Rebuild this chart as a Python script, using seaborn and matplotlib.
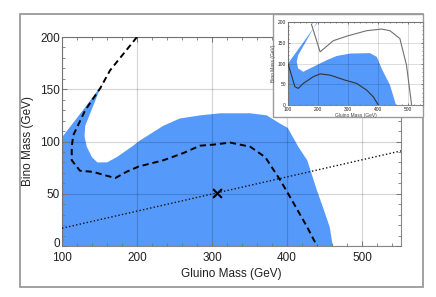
import matplotlib
matplotlib.use("Agg")
import matplotlib.pyplot as plt
import matplotlib.transforms as mtransforms
import seaborn as sns
import pandas as pd
from matplotlib.patches import Rectangle
from matplotlib.ticker import MultipleLocator

# ---- data (GeV) ----
blue_x = [100, 100, 128, 157, 151, 131, 130, 133, 140, 147, 160, 173, 193, 204, 235, 257, 284, 311, 351, 373, 391, 401, 415, 427, 440, 448, 457, 461]
blue_y = [0, 104, 130, 158, 151, 115, 105, 95, 85, 80, 80, 85, 95, 101, 115, 122, 125, 127, 127, 125, 117, 113, 95, 82, 53, 37, 18, 0]

dash_x = [200, 164, 151, 131, 115, 113, 113, 124, 141, 171, 186, 202, 235, 262, 284, 302, 324, 351, 371, 391, 404, 427, 440]
dash_y = [200, 168, 151, 130, 106, 95, 82, 72, 71, 65, 71, 76, 82, 89, 96, 97, 99, 95, 85, 63, 47, 18, 0]

dot_x = [100, 552]
dot_y = [17, 91]

mark_x = [307]
mark_y = [51]

inset_blue_x = [100, 100, 200, 196, 134, 129, 134, 151, 173, 229, 262, 307, 373, 396, 412, 440, 460]
inset_blue_y = [0, 100, 200, 199, 120, 104, 88, 80, 88, 108, 118, 124, 125, 116, 88, 48, 0]

inset_outer_x = [178, 207, 251, 301, 362, 412, 440, 473, 495, 512]
inset_outer_y = [195, 128, 155, 167, 179, 183, 179, 160, 96, 0]

inset_inner_x = [100, 123, 134, 151, 184, 207, 240, 290, 329, 362, 384, 401]
inset_inner_y = [100, 44, 40, 52, 68, 75, 72, 60, 52, 36, 20, 0]

x_ticks = [100, 200, 300, 400, 500]
y_ticks = [0, 50, 100, 150, 200]

BLUE = "#5599fb"

sns.set_theme(style="white")
plt.rcParams["font.family"] = ["Liberation Sans", "DejaVu Sans"]

fig = plt.figure(figsize=(4.36, 2.97), dpi=100)

# outer frame
fig.patches.append(Rectangle((20/436, 1-287/297), (423-20)/436, (287-14)/297,
                             transform=fig.transFigure, fill=False,
                             edgecolor="#9a9a9a", lw=1.3, zorder=0))


def style_axes(ax, fs, minor_x, minor_y, tl, glw, xpad):
    ax.set_xticks(x_ticks)
    ax.set_yticks(y_ticks)
    ax.xaxis.set_minor_locator(MultipleLocator(minor_x))
    ax.yaxis.set_minor_locator(MultipleLocator(minor_y))
    ax.tick_params(which="both", direction="in", top=True, right=True,
                   bottom=True, left=True, colors="#777777", labelcolor="#222222",
                   labelsize=fs, pad=1.5)
    ax.tick_params(axis="x", which="major", pad=xpad)
    ax.tick_params(which="major", length=tl, width=0.7)
    ax.tick_params(which="minor", length=tl*0.55, width=0.6)
    for s in ax.spines.values():
        s.set_color("#888888")
        s.set_linewidth(0.8)
    ax.grid(True, which="major", color="#000000", alpha=0.16, lw=glw)
    ax.set_axisbelow(False)


# main axes
ax = fig.add_axes([62/436, 1-246/297, (401-62)/436, (246-37)/297])
ax.fill(blue_x, blue_y, color=BLUE, lw=0, zorder=1)
df_dash = pd.DataFrame({"x": dash_x, "y": dash_y})
sns.lineplot(data=df_dash, x="x", y="y", sort=False, ax=ax, color="black",
             lw=1.4, zorder=4, estimator=None)
ax.lines[-1].set_dashes([3.2, 2.0])
df_dot = pd.DataFrame({"x": dot_x, "y": dot_y})
sns.lineplot(data=df_dot, x="x", y="y", sort=False, ax=ax, color="#111111",
             lw=1.0, zorder=4, estimator=None)
ax.lines[-1].set_linestyle((0, (1, 1.6)))
sns.scatterplot(x=mark_x, y=mark_y, marker="x", s=40, color="black",
                linewidth=1.5, ax=ax, zorder=5)
ax.set_xlim(100, 552)
ax.set_ylim(0, 200)
style_axes(ax, 8.5, 20, 10, 3.5, 0.9, 4.0)
ax.set_xlabel("Gluino Mass (GeV)", fontsize=8.5, labelpad=3, color="#222222")
ax.set_ylabel("Bino Mass (GeV)", fontsize=8.5, labelpad=4, color="#222222")
# nudge the y "0" label up slightly so it clears the x "100" label
lbl0 = ax.yaxis.get_major_ticks()[0].label1
lbl0.set_transform(lbl0.get_transform() +
                   mtransforms.ScaledTranslation(0, 2.5/72, fig.dpi_scale_trans))

# inset box
fig.patches.append(Rectangle((273/436, 1-117/297), (423-273)/436, (117-14)/297,
                             transform=fig.transFigure, facecolor="white",
                             edgecolor="#9a9a9a", lw=1.0, zorder=5))

axi = fig.add_axes([288/436, 1-105/297, (423-288)/436, (105-22)/297])
axi.set_zorder(10)
axi.fill(inset_blue_x, inset_blue_y, color=BLUE, lw=0, zorder=1)
sns.lineplot(x=inset_outer_x, y=inset_outer_y, sort=False, ax=axi,
             color="#707070", lw=0.8, zorder=4, estimator=None)
sns.lineplot(x=inset_inner_x, y=inset_inner_y, sort=False, ax=axi,
             color="#333333", lw=0.8, zorder=4, estimator=None)
axi.set_xlim(100, 550)
axi.set_ylim(0, 200)
style_axes(axi, 3.5, 20, 10, 1.5, 0.6, 1.5)
axi.set_xlabel("Gluino Mass (GeV)", fontsize=3.5, labelpad=1, color="#444444")
axi.set_ylabel("Bino Mass (GeV)", fontsize=3.5, labelpad=1, color="#444444")

fig.savefig("out.png", dpi=100)
